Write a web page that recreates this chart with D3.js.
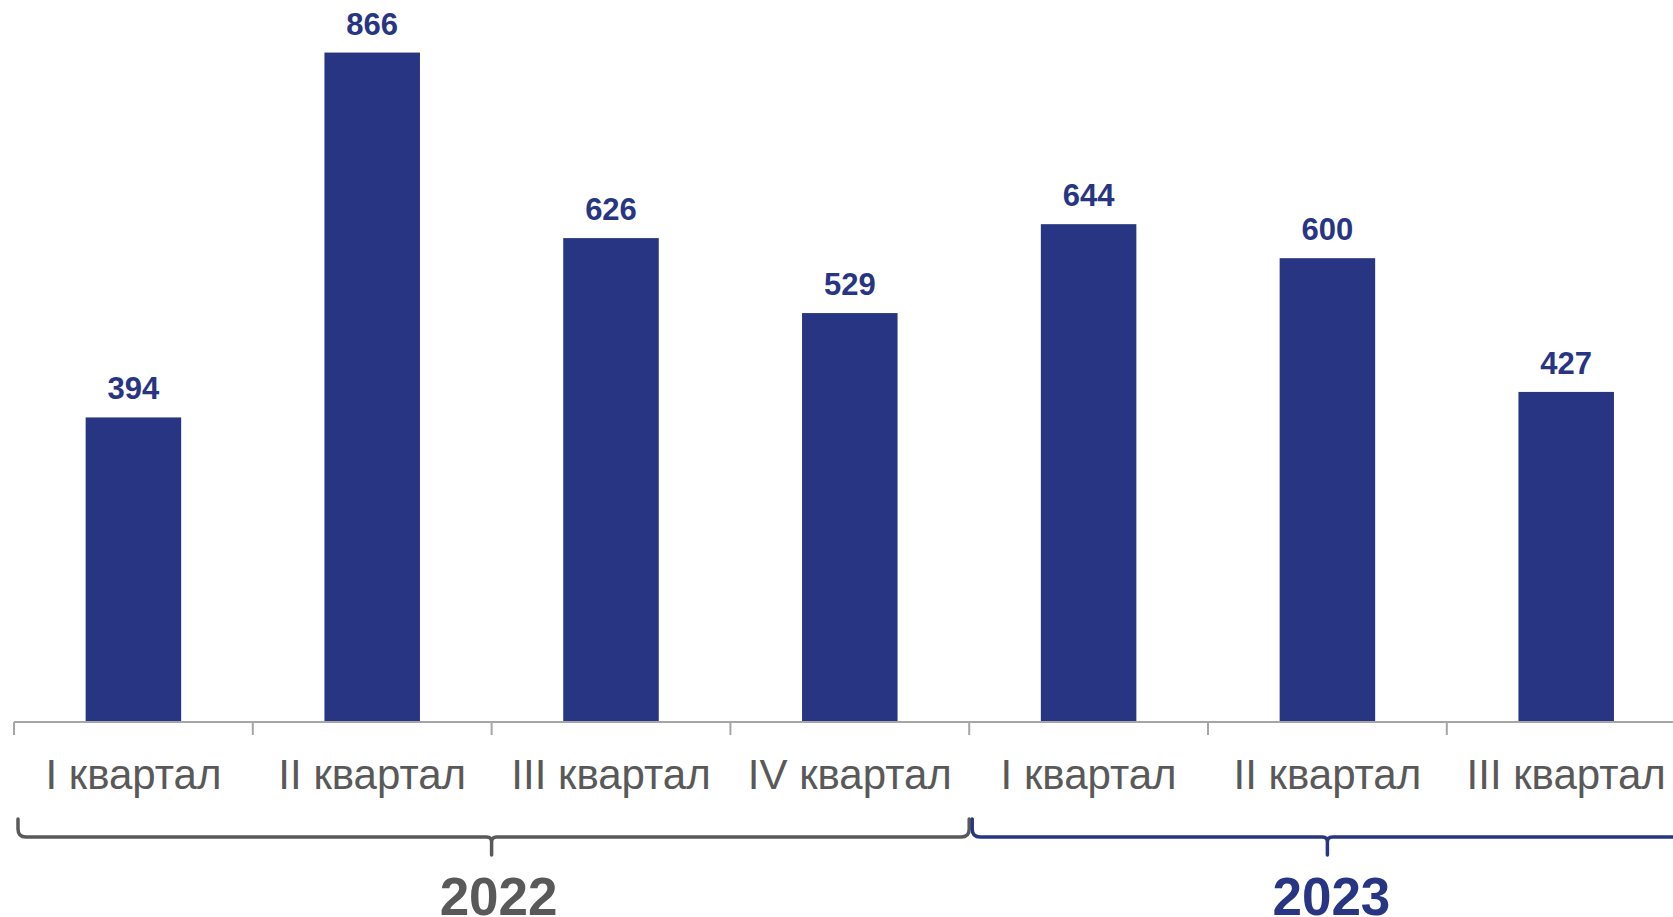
<!DOCTYPE html>
<html>
<head>
<meta charset="utf-8">
<script src="https://cdn.jsdelivr.net/npm/d3@7"></script>
<style>
  body { margin: 0; background: #fff; }
  svg { display: block; font-family: "Liberation Sans", Arial, sans-serif; }
</style>
</head>
<body>
<svg id="chart"></svg>
<script>
// quarters and values
const quarters = ["q1-2022", "q2-2022", "q3-2022", "q4-2022", "q1-2023", "q2-2023", "q3-2023"];
const quarterNames = ["I квартал", "II квартал", "III квартал", "IV квартал", "I квартал", "II квартал", "III квартал"];
const values = [394, 866, 626, 529, 644, 600, 427];
// year groups: which quarters belong to each year
const years = ["2022", "2023"];
const yearQuarters = [[0, 3], [4, 6]];

const w = 1673, h = 917;
const barColor = "#283583";
const grey = "#595959";

let svg = d3.select("#chart")
    .attr("width", w)
    .attr("height", h);

// band scale, one band per quarter
let xScale = d3.scaleBand()
    .domain(quarters)
    .range([14, 14 + 7 * 238.8])
    .paddingInner(0.6)
    .paddingOuter(0.3);

let yScale = d3.scaleLinear()
    .domain([0, 934])
    .range([722, 0]);

let gap = (xScale.step() - xScale.bandwidth()) / 2;

// bars
svg.append("g")
    .selectAll("rect")
    .data(values)
    .enter()
    .append("rect")
    .attr("x", (d, i) => xScale(quarters[i]))
    .attr("y", d => yScale(d))
    .attr("width", xScale.bandwidth())
    .attr("height", d => yScale(0) - yScale(d))
    .attr("fill", barColor);

// value labels above the bars
svg.append("g")
    .selectAll("text")
    .data(values)
    .enter()
    .append("text")
    .attr("x", (d, i) => xScale(quarters[i]) + xScale.bandwidth() / 2)
    .attr("y", d => yScale(d) - 18)
    .attr("text-anchor", "middle")
    .attr("font-size", "31px")
    .attr("font-weight", "700")
    .attr("fill", barColor)
    .text(d => d);

// x axis: labels from the axis, ticks drawn on band edges
let xAxis = d3.axisBottom(xScale)
    .tickSize(0)
    .tickPadding(67)
    .tickFormat((d, i) => quarterNames[i]);

let axisG = svg.append("g")
    .attr("transform", "translate(0," + yScale(0) + ")")
    .call(xAxis);
axisG.select(".domain").remove();
axisG.selectAll("text")
    .attr("font-size", "42px")
    .attr("font-family", "Liberation Sans, Arial, sans-serif")
    .attr("fill", grey)
    .attr("dy", 0);

axisG.append("line")
    .attr("x1", xScale(quarters[0]) - gap)
    .attr("x2", w)
    .attr("stroke", "#a6a6a6")
    .attr("stroke-width", 2);

axisG.selectAll(".edge")
    .data(quarters)
    .enter()
    .append("line")
    .attr("class", "edge")
    .attr("x1", d => xScale(d) - gap)
    .attr("x2", d => xScale(d) - gap)
    .attr("y1", 0)
    .attr("y2", 13)
    .attr("stroke", "#a6a6a6")
    .attr("stroke-width", 2);

// year brackets under the quarter labels
const bracketTop = 819, bracketY = 837, bracketTip = 855, r = 8;
const yearColors = [grey, barColor];
const yearShift = [7, 4];

years.forEach((yr, k) => {
    let first = quarters[yearQuarters[k][0]];
    let last = quarters[yearQuarters[k][1]];
    let x0 = xScale(first) - gap + (k === 0 ? 4 : 3);
    let x1 = xScale(last) + xScale.bandwidth() + gap - (k === 0 ? 0 : -2);
    let cx = (xScale(first) - gap + xScale(last) + xScale.bandwidth() + gap) / 2;

    let p = d3.path();
    p.moveTo(x0, bracketTop);
    p.lineTo(x0, bracketY - r);
    p.quadraticCurveTo(x0, bracketY, x0 + r, bracketY);
    p.lineTo(cx - 5, bracketY);
    p.quadraticCurveTo(cx, bracketY, cx, bracketY + 5);
    p.lineTo(cx, bracketTip);
    p.moveTo(cx, bracketY + 5);
    p.quadraticCurveTo(cx, bracketY, cx + 5, bracketY);
    p.lineTo(x1 - r, bracketY);
    p.quadraticCurveTo(x1, bracketY, x1, bracketY - r);
    p.lineTo(x1, bracketTop);

    svg.append("path")
        .attr("d", p.toString())
        .attr("fill", "none")
        .attr("stroke", yearColors[k])
        .attr("stroke-width", 3.5)
        .attr("stroke-linecap", "round");

    svg.append("text")
        .attr("x", cx + yearShift[k])
        .attr("y", 915)
        .attr("text-anchor", "middle")
        .attr("font-size", "53px")
        .attr("font-weight", "700")
        .attr("fill", yearColors[k])
        .text(yr);
});
</script>
</body>
</html>
